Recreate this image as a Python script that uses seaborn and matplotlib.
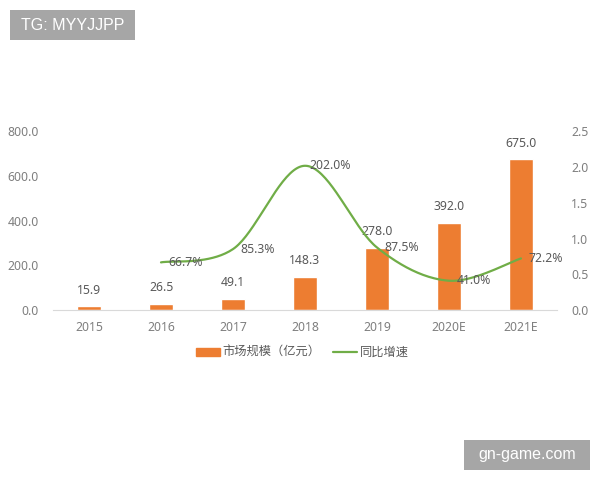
import numpy as np
import pandas as pd
import matplotlib
matplotlib.use("Agg")
import matplotlib.pyplot as plt
from matplotlib.patches import Rectangle
from matplotlib.lines import Line2D
from matplotlib.patches import Patch
import seaborn as sns

years = ["2015", "2016", "2017", "2018", "2019", "2020E", "2021E"]
market = [15.9, 26.5, 49.1, 148.3, 278.0, 392.0, 675.0]
growth_years = [1, 2, 3, 4, 5, 6]
growth = [0.667, 0.853, 2.02, 0.875, 0.41, 0.722]
growth_labels = ["66.7%", "85.3%", "202.0%", "87.5%", "41.0%", "72.2%"]
left_ticks = [0, 200, 400, 600, 800]
right_ticks = [0, 0.5, 1.0, 1.5, 2.0, 2.5]
series_names = ["市场规模（亿元）", "同比增速"]

sns.set_theme(style="white")
plt.rcParams["font.family"] = ["Noto Sans", "Noto Sans CJK SC", "DejaVu Sans"]
TXT = "#595959"
TICK = "#7f7f7f"
ORANGE = "#ED7D31"
GREEN = "#70AD47"
FS = 8.8


def smooth(xs, ys, n=40):
    """Catmull-Rom curve through the points, like a spreadsheet's smoothed line."""
    xs, ys = np.asarray(xs, float), np.asarray(ys, float)
    px = np.r_[xs[0], xs, xs[-1]]
    py = np.r_[ys[0], ys, ys[-1]]
    ox, oy = [], []
    for i in range(1, len(px) - 2):
        t = np.linspace(0, 1, n)
        for p, out in ((px, ox), (py, oy)):
            a, b, c, d = p[i - 1], p[i], p[i + 1], p[i + 2]
            out.append(0.5 * (2 * b + (c - a) * t + (2 * a - 5 * b + 4 * c - d) * t**2
                              + (3 * b - a - 3 * c + d) * t**3))
    return np.concatenate(ox), np.concatenate(oy)


W, H = 600, 480
fig = plt.figure(figsize=(6, 4.8), dpi=100)
fig.patch.set_facecolor("white")
ax = fig.add_axes([53 / W, 1 - 310 / H, 504 / W, 178.5 / H])

df = pd.DataFrame({"year": years, "market": market})
sns.barplot(data=df, x="year", y="market", color=ORANGE, width=0.32, saturation=1, ax=ax)
ax.set_xlim(-0.5, 6.5)
ax.set_ylim(0, 800)
ax.set_yticks(left_ticks)
ax.set_yticklabels([f"{v:.1f}" for v in left_ticks])
ax.set_xlabel("")
ax.set_ylabel("")
ax.tick_params(axis="y", length=0, pad=10, labelsize=FS, labelcolor=TICK)
ax.tick_params(axis="x", length=0, pad=8, labelsize=FS, labelcolor=TICK)
for s in ("top", "left", "right"):
    ax.spines[s].set_visible(False)
ax.spines["bottom"].set_color("#d9d9d9")
ax.spines["bottom"].set_linewidth(0.8)

for i, v in enumerate(market):
    ax.annotate(f"{v:.1f}", (i, v), xytext=(0, 7), textcoords="offset points",
                ha="center", va="bottom", fontsize=FS, color=TXT)

ax2 = ax.twinx()
sx, sy = smooth(growth_years, growth)
sns.lineplot(x=sx, y=sy, color=GREEN, lw=1.6, sort=False, errorbar=None, ax=ax2)
ax2.set_xlim(-0.5, 6.5)
ax2.set_ylim(0, 2.5)
ax2.set_yticks(right_ticks)
ax2.set_yticklabels([f"{v:.1f}" for v in right_ticks])
ax2.set_ylabel("")
ax2.tick_params(axis="y", length=0, pad=10, labelsize=FS, labelcolor=TICK)
for s in ax2.spines.values():
    s.set_visible(False)

for x, y, lab in zip(growth_years, growth, growth_labels):
    ax2.annotate(lab, (x, y), xytext=(18, 0), textcoords="offset points",
                 ha="center", va="center", fontsize=FS, color=TXT)

handles = [Patch(color=ORANGE, label=series_names[0]),
           Line2D([0], [0], color=GREEN, lw=1.6, label=series_names[1])]
fig.legend(handles=handles, ncol=2, loc="center", bbox_to_anchor=(302 / W, 1 - 352.5 / H),
           frameon=False, fontsize=FS, labelcolor=TXT, handlelength=2.0, handleheight=0.6,
           handletextpad=0.2, columnspacing=1.0, borderpad=0)

for (x0, y0, w, h, txt, fs) in [(10, 10, 125, 30, "TG: MYYJJPP", 11.5),
                                (464, 440, 126, 30, "gn-game.com", 11.5)]:
    fig.add_artist(Rectangle((x0 / W, 1 - (y0 + h) / H), w / W, h / H,
                             transform=fig.transFigure, color="#a6a6a6", lw=0))
    fig.text((x0 + w / 2) / W, 1 - (y0 + h / 2) / H, txt, ha="center", va="center",
             color="white", fontsize=fs, family="Liberation Sans")

fig.savefig("out.png", dpi=100)
